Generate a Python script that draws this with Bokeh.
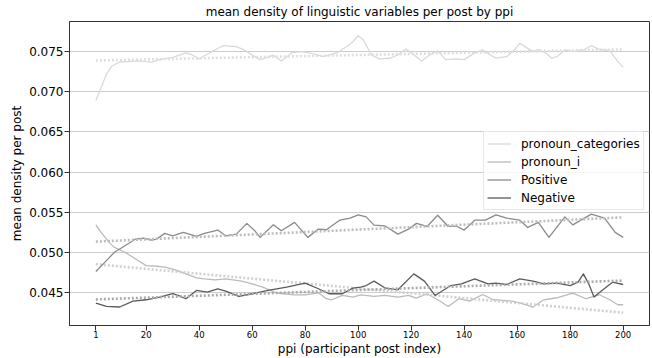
from bokeh.plotting import figure
from bokeh.models import Range1d, FixedTicker, Legend, LegendItem
from bokeh.embed import file_html
from bokeh.resources import INLINE

# ---- data ----
series_names = ["pronoun_categories", "pronoun_i", "Positive", "Negative"]

pc_x = [1, 3, 5, 7, 10, 13, 17, 22, 25, 30, 35, 37, 40, 44, 49, 54, 57, 61, 63, 66,
        68, 71, 75, 79, 83, 87, 92, 96, 98, 100, 102, 105, 108, 112, 115, 118, 120, 124, 127, 130,
        133, 137, 140, 144, 147, 150, 152, 156, 159, 161, 164, 166, 168, 171, 173, 175, 178, 181, 185, 188,
        191, 195, 198, 200]
pc_y = [0.0689, 0.0705, 0.0722, 0.0732, 0.0737, 0.07375, 0.07384, 0.07368, 0.0740, 0.07427,
        0.07484, 0.07463, 0.0741, 0.07486, 0.07573, 0.07561, 0.0752, 0.07437, 0.0740, 0.0743,
        0.07455, 0.07384, 0.07486, 0.07499, 0.0747, 0.07437, 0.07486, 0.07569, 0.07622, 0.07697,
        0.07643, 0.07458, 0.0741, 0.07417, 0.07458, 0.07532, 0.07486, 0.07384, 0.07458, 0.0751,
        0.0740, 0.0741, 0.0740, 0.07484, 0.0752, 0.07455, 0.07418, 0.07437, 0.0752, 0.07602,
        0.0754, 0.07499, 0.07528, 0.07478, 0.07418, 0.07437, 0.0752, 0.07499, 0.0752, 0.07573,
        0.07528, 0.0751, 0.07375, 0.07305]

pi_x = [1, 3, 6, 8, 12, 16, 20, 24, 27, 31, 35, 39, 42, 46, 50, 56, 60, 64, 69, 72,
        76, 80, 85, 88, 90, 94, 98, 101, 106, 110, 115, 119, 122, 126, 130, 134, 138, 142, 147, 151,
        158, 162, 166, 170, 175, 181, 186, 191, 195, 198, 200]
pi_y = [0.05345, 0.05251, 0.05127, 0.05065, 0.05004, 0.04921, 0.04838, 0.0483, 0.04818, 0.04785,
        0.04735, 0.04686, 0.04673, 0.04661, 0.04673, 0.04645, 0.04611, 0.0457, 0.045, 0.04488,
        0.04475, 0.04475, 0.045, 0.04426, 0.04413, 0.04467, 0.04447, 0.04475, 0.04454, 0.04467,
        0.04447, 0.04467, 0.04434, 0.04488, 0.04413, 0.0433, 0.04426, 0.04397, 0.04479, 0.04413,
        0.04397, 0.04364, 0.04323, 0.04413, 0.04438, 0.04496, 0.04426, 0.04475, 0.04413, 0.04351,
        0.04351]

pos_x = [1, 5, 8, 12, 16, 19, 22, 24, 27, 30, 34, 39, 42, 47, 50, 54, 58, 61, 63, 68,
         71, 76, 81, 85, 88, 93, 97, 100, 103, 106, 110, 115, 119, 122, 126, 130, 134, 137, 140, 144,
         148, 152, 156, 161, 164, 168, 172, 178, 181, 188, 193, 197, 200]
pos_y = [0.04764, 0.049, 0.05004, 0.05085, 0.05168, 0.05181, 0.05156, 0.05168, 0.05239, 0.05209,
         0.05251, 0.05202, 0.05239, 0.0528, 0.05209, 0.0523, 0.05363, 0.05271, 0.05189, 0.05345,
         0.05271, 0.05375, 0.05189, 0.05292, 0.05284, 0.05403, 0.05428, 0.05469, 0.05444, 0.05342,
         0.05333, 0.0523, 0.05292, 0.05363, 0.05325, 0.05465, 0.05325, 0.0533, 0.0528, 0.05403,
         0.05403, 0.05469, 0.05428, 0.05403, 0.05313, 0.05375, 0.05189, 0.05444, 0.05345, 0.05478,
         0.05428, 0.05251, 0.05189]

neg_x = [1, 5, 10, 15, 20, 25, 30, 32, 35, 39, 43, 47, 50, 55, 60, 66, 73, 80, 85, 89,
         94, 98, 101, 103, 106, 110, 115, 121, 125, 129, 135, 139, 144, 149, 152, 156, 161, 166, 170, 175,
         180, 183, 185, 187, 189, 192, 196, 200]
neg_y = [0.04372, 0.0433, 0.04323, 0.04397, 0.04413, 0.04447, 0.04488, 0.04467, 0.04426, 0.04529,
         0.04509, 0.0455, 0.04521, 0.04454, 0.04488, 0.04529, 0.0457, 0.0462, 0.0455, 0.04488,
         0.04488, 0.04558, 0.0457, 0.0459, 0.04645, 0.04562, 0.04537, 0.04735, 0.04645, 0.04467,
         0.0459, 0.04611, 0.04673, 0.04611, 0.0462, 0.04603, 0.04673, 0.04645, 0.04611, 0.0462,
         0.0459, 0.04632, 0.04735, 0.04611, 0.04447, 0.04529, 0.04632, 0.04603]

# linear trend lines: value at first and last ppi
trend_x = [1, 200]
pc_trend = [0.07389, 0.07527]
pi_trend = [0.04855, 0.04252]
pos_trend = [0.05136, 0.05438]
neg_trend = [0.04417, 0.04652]

x_ticks = [1, 20, 40, 60, 80, 100, 120, 140, 160, 180, 200]
x_tick_labels = ["1", "20", "40", "60", "80", "100", "120", "140", "160", "180", "200"]
y_ticks = [0.045, 0.050, 0.055, 0.060, 0.065, 0.070, 0.075]
y_tick_labels = ["0.045", "0.050", "0.055", "0.060", "0.065", "0.070", "0.075"]

# ---- styling ----
FONT = "DejaVu Sans"
line_colors = ["#d9d9d9", "#bababa", "#8a8a8a", "#5a5a5a"]
trend_colors = ["#dedede", "#d0d0d0", "#bdbdbd", "#ababab"]

p = figure(width=652, height=358, output_backend="svg", toolbar_location=None,
           x_range=Range1d(-8.95, 209.95), y_range=Range1d(0.04093, 0.07874),
           min_border_left=69, min_border_right=3, min_border_bottom=31, min_border_top=21)

p.title.text = "mean density of linguistic variables per post by ppi"
p.title.align = "center"
p.title.text_font = FONT
p.title.text_font_size = "12px"
p.title.text_font_style = "normal"
p.title.text_color = "#000000"
p.title.standoff = 5
p.title.offset = 0

p.outline_line_color = "#333333"
p.outline_line_width = 1
p.background_fill_color = "white"
p.border_fill_color = "white"

p.xgrid.visible = False
p.ygrid.grid_line_color = "#cccccc"
p.ygrid.grid_line_width = 1

p.xaxis.ticker = FixedTicker(ticks=x_ticks)
p.xaxis.major_label_overrides = {t: l for t, l in zip(x_ticks, x_tick_labels)}
p.yaxis.ticker = FixedTicker(ticks=y_ticks)
p.yaxis.major_label_overrides = {t: l for t, l in zip(y_ticks, y_tick_labels)}

for ax in (p.xaxis[0], p.yaxis[0]):
    ax.axis_line_color = "#333333"
    ax.major_tick_line_color = "#333333"
    ax.minor_tick_line_color = None
    ax.major_tick_in = 0
    ax.major_tick_out = 5
    ax.major_label_text_font = FONT
    ax.major_label_text_color = "#000000"
    ax.axis_label_text_font = FONT
    ax.axis_label_text_font_style = "normal"
    ax.axis_label_text_font_size = "12px"
    ax.axis_label_text_color = "#000000"

p.xaxis.major_label_text_font_size = "8.5px"
p.xaxis.major_label_standoff = 0
p.xaxis.axis_label = "ppi (participant post index)"
p.xaxis.axis_label_standoff = 1
p.yaxis.major_label_text_font_size = "12px"
p.yaxis.major_label_standoff = 1
p.yaxis.axis_label = "mean density per post"
p.yaxis.axis_label_standoff = 2

xs = [pc_x, pi_x, pos_x, neg_x]
ys = [pc_y, pi_y, pos_y, neg_y]
trends = [pc_trend, pi_trend, pos_trend, neg_trend]

items = []
for name, x, y, tr, c, tc in zip(series_names, xs, ys, trends, line_colors, trend_colors):
    r = p.line(x, y, line_color=c, line_width=1.3, line_join="round")
    p.line(trend_x, tr, line_color=tc, line_width=2.6, line_dash="2 2")
    items.append(LegendItem(label=name, renderers=[r]))

legend = Legend(items=items, location=(414, 115))
legend.label_text_font = FONT
legend.label_text_font_size = "12px"
legend.label_text_color = "#000000"
legend.label_height = 17
legend.glyph_height = 17
legend.glyph_width = 24
legend.label_standoff = 10
legend.spacing = 1
legend.padding = 3
legend.margin = 0
legend.border_line_color = "#d0d0d0"
legend.border_line_width = 1
legend.background_fill_alpha = 0.8
p.add_layout(legend, "center")

open("out.html", "w").write(file_html(p, INLINE))
